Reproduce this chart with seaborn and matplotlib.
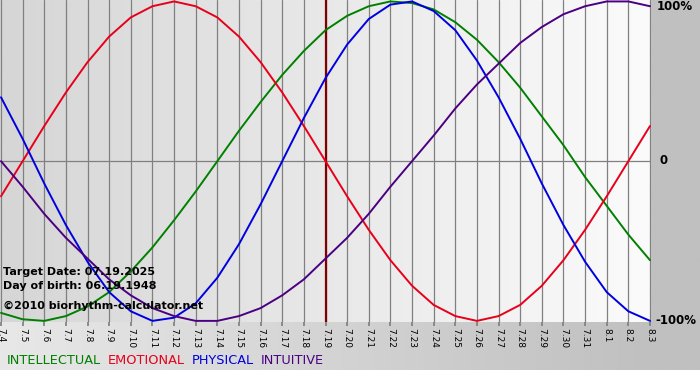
import numpy as np
import pandas as pd
import seaborn as sns
import matplotlib.pyplot as plt
from matplotlib.colors import LinearSegmentedColormap

# Day labels along the x axis
day_labels = ["7.4", "7.5", "7.6", "7.7", "7.8", "7.9", "7.10", "7.11", "7.12", "7.13",
              "7.14", "7.15", "7.16", "7.17", "7.18", "7.19", "7.20", "7.21", "7.22", "7.23",
              "7.24", "7.25", "7.26", "7.27", "7.28", "7.29", "7.30", "7.31", "8.1", "8.2", "8.3"]

# Cycle values (fraction of 100%)
physical = [0.40, 0.14, -0.14, -0.40, -0.63, -0.82, -0.94, -1.00, -0.98, -0.89,
            -0.73, -0.52, -0.27, 0.00, 0.27, 0.52, 0.73, 0.89, 0.98, 1.00,
            0.94, 0.82, 0.63, 0.40, 0.14, -0.14, -0.40, -0.63, -0.82, -0.94, -1.00]
emotional = [-0.22, 0.00, 0.22, 0.43, 0.62, 0.78, 0.90, 0.97, 1.00, 0.97,
             0.90, 0.78, 0.62, 0.43, 0.22, 0.00, -0.22, -0.43, -0.62, -0.78,
             -0.90, -0.97, -1.00, -0.97, -0.90, -0.78, -0.62, -0.43, -0.22, 0.00, 0.22]
intellectual = [-0.95, -0.99, -1.00, -0.97, -0.91, -0.82, -0.69, -0.54, -0.37, -0.19,
                0.00, 0.19, 0.37, 0.54, 0.69, 0.82, 0.91, 0.97, 1.00, 0.99,
                0.95, 0.87, 0.76, 0.62, 0.46, 0.28, 0.10, -0.10, -0.28, -0.46, -0.62]
intuitive = [0.00, -0.16, -0.33, -0.48, -0.61, -0.74, -0.84, -0.92, -0.97, -1.00,
             -1.00, -0.97, -0.92, -0.84, -0.74, -0.61, -0.48, -0.33, -0.16, 0.00,
             0.16, 0.33, 0.48, 0.61, 0.74, 0.84, 0.92, 0.97, 1.00, 1.00, 0.97]

target_day = "7.19"
cycle_names = ["INTELLECTUAL", "EMOTIONAL", "PHYSICAL", "INTUITIVE"]
cycle_colors = ["#008000", "#e8001a", "#0000e0", "#4b0082"]

days = list(range(len(day_labels)))
df = pd.DataFrame({
    "day": days * 4,
    "value": intellectual + emotional + physical + intuitive,
    "cycle": np.repeat(cycle_names, len(days)),
})

sns.set_theme(style="white")
plt.rcParams["font.family"] = ["DejaVu Sans"]
plt.rcParams["text.color"] = "black"
plt.rcParams["xtick.color"] = "black"

W, H = 700, 380
fig = plt.figure(figsize=(W / 100, H / 100), dpi=100)
fig.patch.set_facecolor("white")

# grey frame behind everything (bottom strip + right strip)
bg = fig.add_axes([0, 10 / H, 1, 370 / H], zorder=0)
bg_cmap = LinearSegmentedColormap.from_list("bg", [(0, "#e8e8e8"), (0.93, "#c0c0c0"), (1, "#c0c0c0")])
bg.imshow(np.linspace(0, 1, 256).reshape(1, -1), cmap=bg_cmap, aspect="auto", extent=[0, 1, 0, 1])
bg.axis("off")

# plot area
ax = fig.add_axes([0, 1 - 322 / H, 651 / W, 322 / H], zorder=1)
xpad = 1 / 21.63
ax.set_xlim(-xpad, 30 + xpad)
ax.set_ylim(-1.007, 1.009)
plot_cmap = LinearSegmentedColormap.from_list("plot", ["#d6d6d6", "#fbfbfb"])
ax.imshow(np.linspace(0, 1, 256).reshape(1, -1), cmap=plot_cmap, aspect="auto",
          extent=[-xpad, 30 + xpad, -1.007, 1.009], zorder=0)

for d in days:
    ax.axvline(d, color="#808080", lw=0.9, zorder=1)
ax.axhline(0, color="#808080", lw=0.9, zorder=1)

sns.lineplot(data=df, x="day", y="value", hue="cycle", hue_order=cycle_names,
             palette=cycle_colors, lw=1.4, legend=False, ax=ax, zorder=3)

ax.axvline(day_labels.index(target_day), color="#800000", lw=1.6, zorder=2)

for s in ax.spines.values():
    s.set_visible(False)
ax.set_xlabel("")
ax.set_ylabel("")
ax.set_yticks([])
ax.set_xticks(days)
ax.set_xticklabels(day_labels, rotation=270, fontsize=6.5)
ax.tick_params(axis="x", length=3, color="#808080", pad=1, bottom=True, labelcolor="black")

# right side percent labels
fig.text(657 / W, 1 - 7 / H, "100%", fontsize=8.5, fontweight="bold", va="center", ha="left")
fig.text(660 / W, 1 - 161 / H, "0", fontsize=8.5, fontweight="bold", va="center", ha="left")
fig.text(655 / W, 1 - 321 / H, "-100%", fontsize=8.5, fontweight="bold", va="center", ha="left")

# info text
fig.text(3 / W, 1 - 272 / H, "Target Date: 07.19.2025", fontsize=8, fontweight="bold", va="center", zorder=5)
fig.text(3 / W, 1 - 286 / H, "Day of birth: 06.19.1948", fontsize=8, fontweight="bold", va="center", zorder=5)
fig.text(3 / W, 1 - 306 / H, "\u00a92010 biorhythm-calculator.net", fontsize=8, fontweight="bold", va="center", zorder=5)

# legend line
x0 = 7
for name, color in zip(cycle_names, cycle_colors):
    t = fig.text(x0 / W, 1 - 361 / H, name, fontsize=9.3, color=color, va="center", ha="left")
    fig.canvas.draw()
    bb = t.get_window_extent()
    x0 = bb.x1 + 7

fig.savefig("out.png", dpi=100)
